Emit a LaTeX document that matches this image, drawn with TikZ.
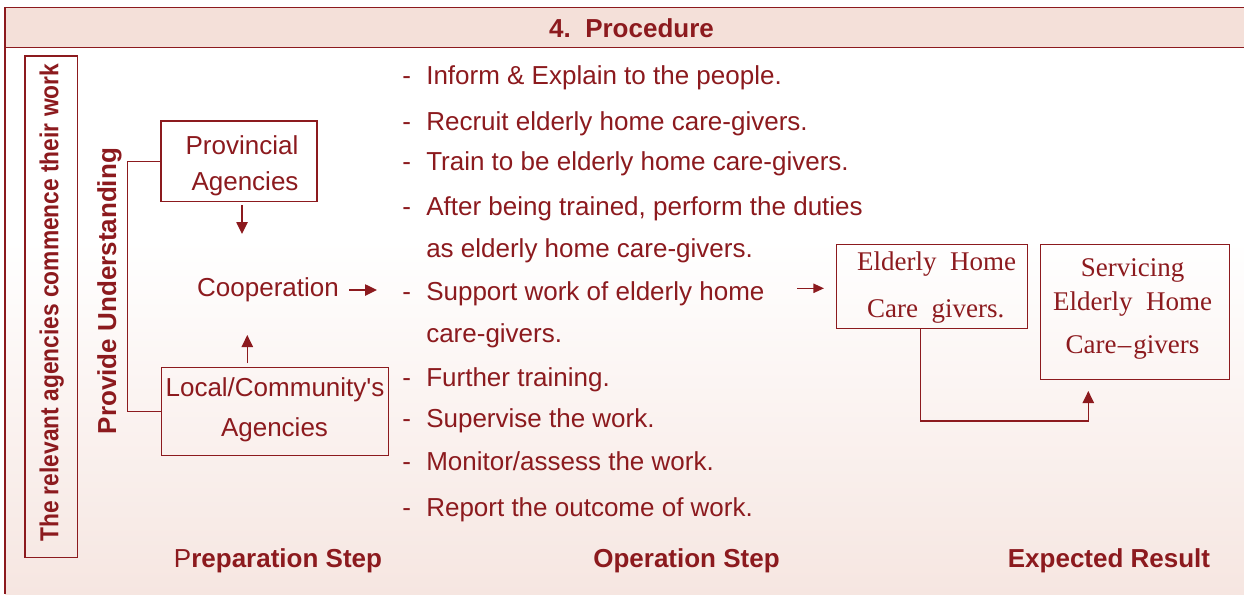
\documentclass[tikz,border=0pt]{standalone}
\usepackage{fontspec}
\setmainfont{Liberation Sans}
\newfontfamily\seriffont{Liberation Serif}
\newfontfamily\nomapfont[Ligatures=ResetAll]{Liberation Sans}
\usetikzlibrary{arrows.meta}
\definecolor{dred}{RGB}{140,26,30}
\definecolor{band}{RGB}{244,224,217}
\definecolor{bgpink}{RGB}{246,230,225}
\begin{document}
\begin{tikzpicture}[x=0.75pt,y=-0.75pt,
  txt/.style={text=dred,font=\fontsize{19.5}{23}\selectfont,inner sep=0pt},
  btxt/.style={text=dred,font=\fontsize{19.5}{23}\selectfont\bfseries,inner sep=0pt},
  stxt/.style={text=dred,font=\fontsize{20.25}{24}\selectfont\seriffont,inner sep=0pt},
  bx/.style={draw=dred,line width=0.9pt,inner sep=0pt},
  ln/.style={draw=dred,line width=1pt},
  arr/.style={draw=dred,line width=1.1pt,-{Triangle[length=9pt,width=8.5pt]}},
  sarr/.style={draw=dred,line width=1.1pt,-{Triangle[length=8pt,width=7pt]}},
  item/.style={txt,anchor=base west}
]
\useasboundingbox (0,0) rectangle (1244,594);
% background
\fill[white] (0,0) rectangle (1244,594);
\shade[top color=white,bottom color=bgpink] (5,240) rectangle (1244,594);
\fill[band] (5,7.5) rectangle (1244,47.5);
\draw[dred,line width=1.3pt] (1244,7.5) -- (5,7.5) -- (5,594);
\draw[dred,line width=1.3pt] (5,47.5) -- (1244,47.5);
% header
\node[btxt,anchor=base] (title) at (631.5,37) {4.\ \ Procedure};
% left boxes
\node[bx,minimum width=39.5pt,minimum height=376.3pt] (leftbox) at (51.35,306.85) {};
\node[btxt,rotate=90,anchor=base] (relev) at (58.3,302.8) {\scalebox{0.875}[1]{The relevant agencies commence their work}};
\node[btxt,rotate=90,anchor=base] (provide) at (116,291) {Provide Understanding};
% preparation boxes
\node[bx,minimum width=117pt,minimum height=60.5pt] (prov) at (239,161.3) {};
\node[txt,anchor=base] (provA) at (242,154) {Provincial};
\node[txt,anchor=base] (provB) at (245,190) {Agencies};
\node[bx,minimum width=170pt,minimum height=66.3pt] (loc) at (275,411.5) {};
\node[txt,anchor=base] (locA) at (275,396.7) {Local/Community{\nomapfont'}s};
\node[txt,anchor=base] (locB) at (274.5,436.7) {Agencies};
\node[txt,anchor=base] (coop) at (268,296.5) {Cooperation};
% bracket
\draw[ln] (prov.west) -- ++(-32.7,0) |- (loc.west);
% arrows prep
\coordinate (p1) at (242,205);
\coordinate (p2) at (242,234);
\draw[arr] (p1) -- (p2);
\coordinate (p3) at (247.3,363);
\coordinate (p4) at (247.3,335);
\draw[arr] (p3) -- (p4);
\coordinate (p5) at (349,290);
\coordinate (p6) at (377,290);
\draw[arr] (p5) -- (p6);
% operation list
\node[item] (d1) at (402,84.5) {-};  \node[item] (i1) at (426,84.5) {Inform \& Explain to the people.};
\node[item] (d2) at (402,130) {-};   \node[item] (i2) at (426,130) {Recruit elderly home care-givers.};
\node[item] (d3) at (402,170.5) {-}; \node[item] (i3) at (426,170.5) {Train to be elderly home care-givers.};
\node[item] (d4) at (402,215) {-};   \node[item] (i4) at (426,215) {After being trained, perform the duties};
\node[item] (i4b) at (426,257.5) {as elderly home care-givers.};
\node[item] (d5) at (402,300) {-};   \node[item] (i5) at (426,300) {Support work of elderly home};
\node[item] (i5b) at (426,342.5) {care-givers.};
\node[item] (d6) at (402,386.5) {-}; \node[item] (i6) at (426,386.5) {Further training.};
\node[item] (d7) at (402,427) {-};   \node[item] (i7) at (426,427) {Supervise the work.};
\node[item] (d8) at (402,470.5) {-}; \node[item] (i8) at (426,470.5) {Monitor/assess the work.};
\node[item] (d9) at (402,516) {-};   \node[item] (i9) at (426,516) {Report the outcome of work.};
\coordinate (p7) at (797,288.3);
\coordinate (p8) at (824,288.3);
\draw[sarr] (p7) -- (p8);
% result boxes
\node[bx,minimum width=143pt,minimum height=63pt] (eld) at (932,286.3) {};
\node[stxt,anchor=base] (eldA) at (936.7,270.7) {Elderly\ \ Home};
\node[stxt,anchor=base] (eldB) at (935.7,317.3) {Care\ \ givers.};
\node[bx,minimum width=141.5pt,minimum height=101.25pt] (serv) at (1135,311.8) {};
\node[stxt,anchor=base] (servA) at (1132.5,276.7) {Servicing};
\node[stxt,anchor=base] (servB) at (1132.7,310) {Elderly\ \ Home};
\node[stxt,anchor=base] (servC) at (1132.5,353.3) {Care\kern1pt–\kern1.5pt givers};
\coordinate (c1) at (920.7,421);
\coordinate (c2) at (1088.3,391);
\draw[arr] (eld.south -| c1) -- (c1) -| (c2);
% bottom labels
\node[btxt,anchor=base] (prep) at (278,567) {{\mdseries P}reparation Step};
\node[btxt,anchor=base] (oper) at (686.5,567) {Operation Step};
\node[btxt,anchor=base] (expr) at (1109,567) {Expected Result};
\end{tikzpicture}
\end{document}
